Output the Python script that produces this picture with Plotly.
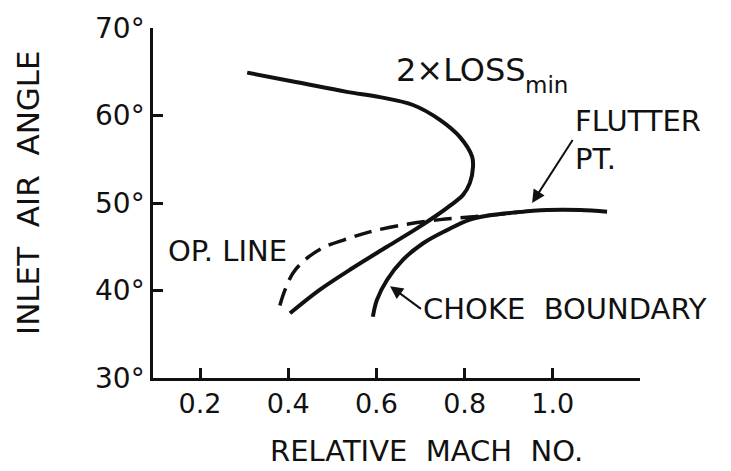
import plotly.graph_objects as go

# --- data ---
loss_x = [0.307, 0.420, 0.533, 0.608, 0.683, 0.744, 0.790, 0.817, 0.819, 0.812, 0.796, 0.767, 0.737, 0.692, 0.624, 0.547, 0.472, 0.404]
loss_y = [64.9, 63.8, 62.7, 62.1, 61.2, 59.5, 57.5, 55.3, 54.1, 52.3, 50.9, 49.7, 48.6, 47.1, 45.0, 42.6, 40.1, 37.4]

choke_x = [0.592, 0.601, 0.624, 0.660, 0.706, 0.760, 0.812, 0.858, 0.910, 0.987, 1.062, 1.123]
choke_y = [37.0, 38.9, 41.2, 43.5, 45.4, 46.9, 48.1, 48.6, 48.9, 49.2, 49.2, 49.0]

op_x = [0.381, 0.393, 0.411, 0.438, 0.479, 0.540, 0.585, 0.660, 0.744, 0.812, 0.880, 0.948]
op_y = [38.3, 40.1, 42.0, 43.5, 44.9, 46.0, 46.7, 47.5, 48.1, 48.4, 48.7, 49.1]

x_tickvals = [0.2, 0.4, 0.6, 0.8, 1.0]
x_ticktext = ["0.2", "0.4", "0.6", "0.8", "1.0"]
x_end_tick = [1.2]
y_tickvals = [30, 40, 50, 60, 70]
y_ticktext = ["30°", "40°", "50°", "60°", "70°"]

FONT = "DejaVu Sans"
INK = "#111111"

fig = go.Figure()
fig.add_trace(go.Scatter(x=loss_x, y=loss_y, mode="lines", line=dict(color=INK, width=4, shape="spline"),
                         name="2×LOSS min", showlegend=False))
fig.add_trace(go.Scatter(x=choke_x, y=choke_y, mode="lines", line=dict(color=INK, width=4, shape="spline"),
                         name="Choke boundary", showlegend=False))
fig.add_trace(go.Scatter(x=op_x, y=op_y, mode="lines", line=dict(color=INK, width=3.5, dash="18px,9px", shape="spline"),
                         name="Op. line", showlegend=False))

tf = dict(family=FONT, size=29, color=INK)
ann = [
    dict(x=0.263, y=44.5, text="OP.\u00a0LINE", showarrow=False, xanchor="center", yanchor="middle", font=tf),
    # choke boundary label with its arrow
    dict(x=0.631, y=40.5, ax=0.701, ay=37.9, axref="x", ayref="y",
         text="CHOKE\u00a0\u00a0BOUNDARY", xanchor="left", yanchor="middle", font=tf,
         showarrow=True, arrowhead=2, arrowsize=1.3, arrowwidth=2, arrowcolor=INK, standoff=0),
    # flutter point label with its arrow
    dict(x=0.953, y=50.0, ax=1.045, ay=57.2, axref="x", ayref="y",
         text="FLUTTER<br>PT.", align="left", xanchor="left", yanchor="middle", font=tf,
         showarrow=True, arrowhead=2, arrowsize=1.3, arrowwidth=2, arrowcolor=INK, standoff=0),
    dict(x=0.640, y=65.2, text="2×LOSS", showarrow=False, xanchor="left", yanchor="middle",
         font=dict(family=FONT, size=32, color=INK)),
    dict(x=0.933, y=63.5, text="min", showarrow=False, xanchor="left", yanchor="middle",
         font=dict(family=FONT, size=23, color=INK)),
    # axis titles
    dict(x=0.5626, y=-0.2086, xref="paper", yref="paper", text="RELATIVE\u00a0\u00a0MACH\u00a0\u00a0NO.",
         showarrow=False, xanchor="center", yanchor="middle", font=dict(family=FONT, size=29, color=INK)),
    dict(x=-0.2567, y=0.5314, xref="paper", yref="paper", text="INLET\u00a0\u00a0AIR\u00a0\u00a0ANGLE", textangle=-90,
         showarrow=False, xanchor="center", yanchor="middle", font=dict(family=FONT, size=31, color=INK)),
]

# page body adds an 8px offset, so the figure is sized/margined to land the plot box
# at x 153..640, y 28..378 in the 731x471 window
fig.update_layout(
    width=723, height=463,
    margin=dict(l=145, r=91, t=20, b=93),
    paper_bgcolor="white", plot_bgcolor="white",
    font=dict(family=FONT, color=INK),
    annotations=ann,
    showlegend=False,
)
fig.update_xaxes(
    range=[0.0934, 1.1977], tickvals=x_tickvals, ticktext=x_ticktext, automargin=False,
    showgrid=False, zeroline=False, showline=True, linecolor=INK, linewidth=2.5,
    ticks="inside", ticklen=10, tickwidth=2.5, tickcolor=INK,
    minor=dict(tickvals=x_end_tick, ticks="inside", ticklen=10, tickwidth=2.5, tickcolor=INK, showgrid=False),
    tickfont=dict(family=FONT, size=27, color=INK), ticklabelstandoff=0,
)
fig.update_yaxes(
    range=[30, 70], tickvals=y_tickvals, ticktext=y_ticktext, automargin=False,
    showgrid=False, zeroline=False, showline=True, linecolor=INK, linewidth=2.5,
    ticks="inside", ticklen=10, tickwidth=2.5, tickcolor=INK,
    tickfont=dict(family=FONT, size=28, color=INK), ticklabelstandoff=0,
)

fig.write_html("out.html")
